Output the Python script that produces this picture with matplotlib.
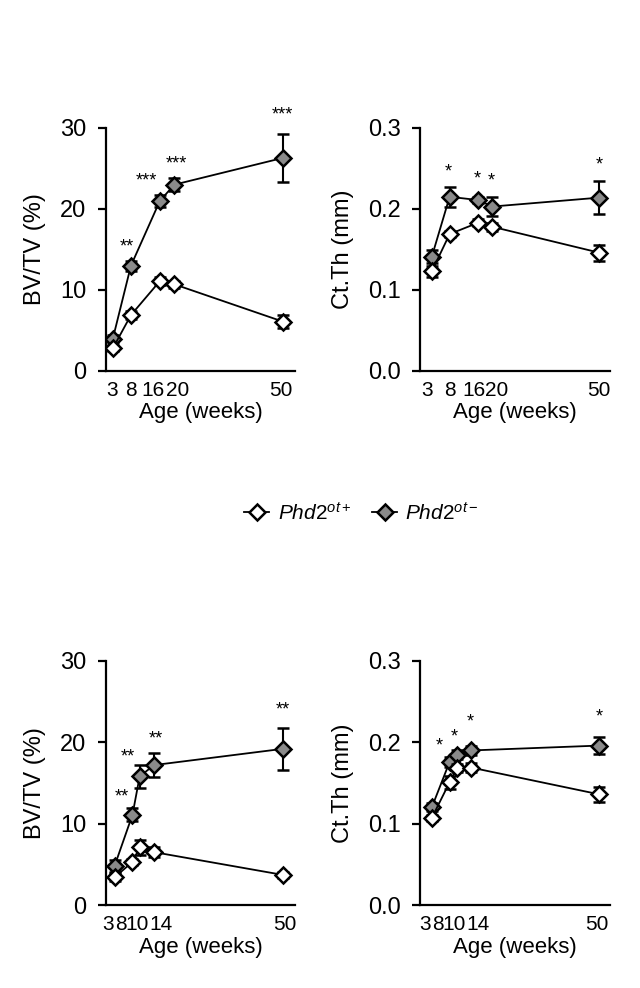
import matplotlib
matplotlib.use("Agg")
import matplotlib.pyplot as plt
from matplotlib import font_manager
from matplotlib.lines import Line2D

plt.rcParams["font.family"] = ["Liberation Sans", "DejaVu Sans"]
plt.rcParams["mathtext.fontset"] = "custom"
plt.rcParams["mathtext.it"] = "Liberation Sans:italic"
plt.rcParams["mathtext.rm"] = "Liberation Sans"

# narrow face for the crowded age tick labels, if one is installed
installed = {f.name for f in font_manager.fontManager.ttflist}
NARROW = next((n for n in ["Liberation Sans Narrow", "DejaVu Sans Condensed"]
               if n in installed), "Liberation Sans")

# ---------------------------------------------------------------------------
# Data
# ---------------------------------------------------------------------------
ages_top = [3, 8, 16, 20, 50]
ages_bot = [3, 8, 10, 14, 50]

bvtv_wt_top = [2.8, 6.9, 11.1, 10.7, 6.1]
bvtv_wt_top_err = [0.3, 0.5, 0.5, 0.4, 0.8]
bvtv_ko_top = [4.0, 13.0, 21.0, 23.0, 26.3]
bvtv_ko_top_err = [0.5, 0.6, 0.7, 0.8, 3.0]

ctth_wt_top = [0.123, 0.169, 0.183, 0.178, 0.146]
ctth_wt_top_err = [0.007, 0.004, 0.004, 0.005, 0.010]
ctth_ko_top = [0.141, 0.215, 0.211, 0.203, 0.214]
ctth_ko_top_err = [0.008, 0.012, 0.004, 0.012, 0.020]

bvtv_wt_bot = [3.4, 5.3, 7.1, 6.5, 3.7]
bvtv_wt_bot_err = [0.5, 0.4, 0.9, 0.6, 0.4]
bvtv_ko_bot = [4.8, 11.1, 15.8, 17.2, 19.2]
bvtv_ko_bot_err = [0.7, 0.8, 1.4, 1.5, 2.6]

ctth_wt_bot = [0.107, 0.151, 0.168, 0.169, 0.136]
ctth_wt_bot_err = [0.004, 0.008, 0.005, 0.005, 0.009]
ctth_ko_bot = [0.120, 0.176, 0.185, 0.190, 0.196]
ctth_ko_bot_err = [0.005, 0.006, 0.005, 0.005, 0.010]

# the age labels were spread apart by hand in the original figure
tick_pos_tl = [2.9, 8.0, 14.2, 21.0, 49.5]
tick_pos_tr = [1.6, 8.0, 14.8, 21.3, 49.8]
tick_pos_bl = [1.2, 4.8, 9.4, 15.9, 50.5]
tick_pos_br = [1.1, 4.7, 9.3, 16.0, 49.3]

# significance marks: (x, y, label)
stars_tl = [(6.8, 15.3, "**"), (12.3, 23.4, "***"), (20.6, 25.6, "***"), (50, 31.6, "***")]
stars_tr = [(7.6, 0.246, "*"), (15.7, 0.237, "*"), (19.7, 0.234, "*"), (50, 0.254, "*")]
stars_bl = [(4.9, 13.3, "**"), (6.7, 18.2, "**"), (14.5, 20.4, "**"), (50, 24.0, "**")]
stars_br = [(5.0, 0.1955, "*"), (9.4, 0.207, "*"), (13.8, 0.2255, "*"), (50, 0.231, "*")]

label_wt = r"$\mathit{Phd2}^{\mathit{ot+}}$"
label_ko = r"$\mathit{Phd2}^{\mathit{ot-}}$"

KO_GREY = "#8a8a8a"
MS = 8


def draw_panel(ax, ages, wt, wt_err, ko, ko_err, stars, ylim, yticks, ylabel,
               xlim, tick_pos):
    common = dict(marker="D", markersize=MS, markeredgecolor="black",
                  markeredgewidth=1.8, color="black", linewidth=1.3,
                  ecolor="black", elinewidth=1.5, capsize=4, capthick=1.5)
    ax.errorbar(ages, ko, yerr=ko_err, markerfacecolor=KO_GREY, zorder=3, **common)
    ax.errorbar(ages, wt, yerr=wt_err, markerfacecolor="white", zorder=4, **common)

    for x, y, s in stars:
        ax.text(x, y, s, ha="center", va="center", fontsize=13)

    ax.set_xlim(*xlim)
    ax.set_ylim(*ylim)
    ax.set_yticks(yticks)
    ax.set_xticks(tick_pos)
    ax.set_xticklabels([str(a) for a in ages])
    ax.set_ylabel(ylabel, fontsize=17, labelpad=10)
    ax.set_xlabel("Age (weeks)", fontsize=16, labelpad=2)

    for side in ("top", "right"):
        ax.spines[side].set_visible(False)
    for side in ("left", "bottom"):
        ax.spines[side].set_linewidth(1.6)
    ax.tick_params(axis="y", length=6, width=1.6, labelsize=17, pad=8)
    ax.tick_params(axis="x", length=0, pad=7, labelsize=15, labelfontfamily=NARROW)


fig = plt.figure(figsize=(6.4, 9.88), dpi=100)

ax_tl = fig.add_axes([0.1656, 0.6245, 0.295, 0.246])
ax_tr = fig.add_axes([0.6563, 0.6245, 0.297, 0.246])
ax_bl = fig.add_axes([0.1656, 0.084, 0.295, 0.247])
ax_br = fig.add_axes([0.6563, 0.084, 0.297, 0.247])

draw_panel(ax_tl, ages_top, bvtv_wt_top, bvtv_wt_top_err, bvtv_ko_top, bvtv_ko_top_err,
           stars_tl, (0, 30), [0, 10, 20, 30], "BV/TV (%)", (1.1, 53.3), tick_pos_tl)
draw_panel(ax_tr, ages_top, ctth_wt_top, ctth_wt_top_err, ctth_ko_top, ctth_ko_top_err,
           stars_tr, (0, 0.3), [0.0, 0.1, 0.2, 0.3], "Ct.Th (mm)", (-0.3, 53.0), tick_pos_tr)
draw_panel(ax_bl, ages_bot, bvtv_wt_bot, bvtv_wt_bot_err, bvtv_ko_bot, bvtv_ko_bot_err,
           stars_bl, (0, 30), [0, 10, 20, 30], "BV/TV (%)", (0.6, 53.3), tick_pos_bl)
draw_panel(ax_br, ages_bot, ctth_wt_bot, ctth_wt_bot_err, ctth_ko_bot, ctth_ko_bot_err,
           stars_br, (0, 0.3), [0.0, 0.1, 0.2, 0.3], "Ct.Th (mm)", (-0.3, 53.0), tick_pos_br)

for ax in (ax_tr, ax_br):
    ax.set_yticklabels(["0.0", "0.1", "0.2", "0.3"])

handles = [
    Line2D([], [], color="black", lw=1.3, marker="D", markersize=MS,
           markerfacecolor="white", markeredgecolor="black", markeredgewidth=1.8),
    Line2D([], [], color="black", lw=1.3, marker="D", markersize=MS,
           markerfacecolor=KO_GREY, markeredgecolor="black", markeredgewidth=1.8),
]
fig.legend(handles, [label_wt, label_ko], loc="center", bbox_to_anchor=(0.565, 0.481),
           ncol=2, frameon=False, fontsize=15, handlelength=1.2, handletextpad=0.4,
           columnspacing=1.0)

fig.savefig("out.png", dpi=100)
